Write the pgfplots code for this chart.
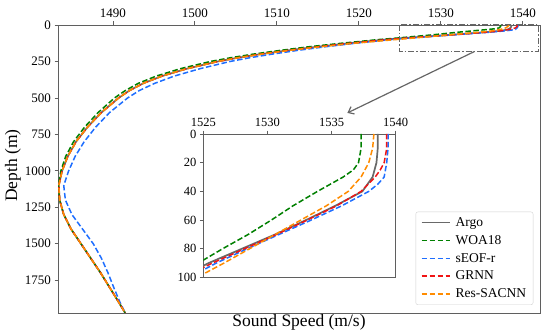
\documentclass[border=0pt]{standalone}
\usepackage{fontspec}
\setmainfont{Liberation Serif}
\usepackage{pgfplots}
\pgfplotsset{compat=1.18}
\usepackage{pgfplotstable}
\usetikzlibrary{arrows.meta}
\definecolor{cArgo}{RGB}{105,105,105}
\definecolor{cWOA}{RGB}{0,128,0}
\definecolor{cSEOF}{RGB}{30,110,255}
\definecolor{cGRNN}{RGB}{240,20,20}
\definecolor{cRES}{RGB}{255,140,0}
\definecolor{frame}{RGB}{95,95,95}

\pgfplotstableread{
d s
0 1538.6
10 1538.6
20 1538.5
30 1538.2
40 1537.4
50 1535.3
60 1533.0
70 1530.6
80 1528.0
90 1525.4
100 1523.2
125 1518.8
150 1514.8
175 1511.2
200 1508.0
225 1505.2
250 1502.8
300 1499.0
350 1496.0
400 1493.7
450 1492.0
500 1490.7
600 1488.6
700 1486.9
800 1485.5
900 1484.5
1000 1483.8
1100 1483.4
1200 1483.5
1300 1484.0
1400 1484.9
1500 1486.1
1600 1487.3
1700 1488.5
1800 1489.6
1900 1490.7
1975 1491.5
}\argo

\pgfplotstableread{
d s
0 1537.3
10 1537.3
20 1537.1
25 1536.7
30 1535.9
40 1533.9
50 1532.0
60 1530.3
70 1528.5
80 1526.5
90 1524.6
100 1522.4
125 1517.9
150 1513.8
175 1510.3
200 1507.1
225 1504.3
250 1501.9
300 1498.2
350 1495.3
400 1493.1
450 1491.5
500 1490.2
600 1488.2
700 1486.55
800 1485.2
900 1484.25
1000 1483.65
1100 1483.35
1200 1483.5
1300 1484.0
1400 1484.9
1500 1486.1
1600 1487.3
1700 1488.5
1800 1489.6
1900 1490.7
1975 1491.5
}\woa

\pgfplotstableread{
d s
0 1539.4
10 1539.4
20 1539.3
30 1539.1
35 1538.6
40 1537.9
50 1535.8
60 1533.4
70 1530.9
80 1528.4
90 1526.0
100 1523.9
125 1519.6
150 1515.8
175 1512.4
200 1509.4
225 1506.65
250 1504.3
300 1500.6
350 1497.5
400 1495.1
450 1493.2
500 1491.8
600 1489.6
700 1487.9
800 1486.5
900 1485.4
1000 1484.6
1100 1484.0
1200 1484.2
1300 1485.0
1400 1486.3
1500 1487.6
1600 1488.6
1700 1489.4
1800 1490.1
1900 1490.85
1975 1491.5
}\seof

\pgfplotstableread{
d s
0 1539.3
10 1539.3
20 1539.1
25 1538.8
30 1538.4
40 1537.3
50 1535.4
60 1533.1
70 1530.7
80 1528.2
90 1525.7
100 1523.4
125 1518.9
150 1514.9
175 1511.2
200 1508.0
225 1505.2
250 1502.8
300 1499.0
350 1496.0
400 1493.7
450 1492.0
500 1490.7
600 1488.6
700 1486.9
800 1485.5
900 1484.5
1000 1483.8
1100 1483.4
1200 1483.5
1300 1484.0
1400 1484.9
1500 1486.1
1600 1487.3
1700 1488.5
1800 1489.6
1900 1490.7
1975 1491.5
}\grnn

\pgfplotstableread{
d s
0 1538.3
10 1538.2
20 1537.9
30 1537.3
40 1536.3
50 1534.6
60 1532.6
70 1530.6
80 1528.6
90 1526.6
100 1524.5
125 1519.5
150 1515.2
175 1511.4
200 1508.1
225 1505.2
250 1502.8
300 1499.0
350 1496.0
400 1493.7
450 1492.0
500 1490.7
600 1488.6
700 1486.9
800 1485.5
900 1484.5
1000 1483.8
1100 1483.4
1200 1483.5
1300 1484.0
1400 1484.9
1500 1486.1
1600 1487.3
1700 1488.5
1800 1489.6
1900 1490.7
1975 1491.5
}\res

\pgfplotsset{
  common/.style={
    scale only axis,
    y dir=reverse,
    tick align=outside,
    major tick length=3.5pt,
    xtick pos=right, ytick pos=left,
    xticklabel pos=right,
    axis line style={frame, line width=0.8pt},
    tick style={frame, line width=0.8pt},
    /pgf/number format/assume math mode=true,
    /pgf/number format/1000 sep={},
    every axis plot/.append style={line join=round},
  },
  sargo/.style={cArgo, line width=1.7pt},
  sdash/.style={line width=1.5pt, dash pattern=on 5.5pt off 2.5pt},
}

\begin{document}
\begin{tikzpicture}[x=1pt,y=1pt]
\useasboundingbox (0,0) rectangle (550,334);
\begin{axis}[
  common,
  at={(58pt,21pt)}, anchor=south west,
  width=482pt, height=288pt,
  xmin=1483.3, xmax=1542.1, ymin=0, ymax=1975,
  xtick={1490,1500,...,1540}, ytick={0,250,...,1750},
  tick label style={font=\fontsize{13}{15}\selectfont},
  legend style={at={(0.986,0.028)}, anchor=south east,
    font=\fontsize{13.5}{16}\selectfont, draw=black!18, rounded corners=2pt,
    fill=white, row sep=3.4pt, inner xsep=5pt, inner ysep=3.5pt,
    cells={anchor=west},
    /tikz/every odd column/.style={column sep=3pt}},
  legend image code/.code={\draw[#1] (0pt,0pt) -- (28pt,0pt);},
]
\addplot[sargo] table[x=s,y=d] {\argo};
\addlegendentry{Argo}
\addplot[sdash, cWOA] table[x=s,y=d] {\woa};
\addlegendentry{WOA18}
\addplot[sdash, cSEOF] table[x=s,y=d] {\seof};
\addlegendentry{sEOF-r}
\addplot[sdash, cGRNN] table[x=s,y=d] {\grnn};
\addlegendentry{GRNN}
\addplot[sdash, cRES] table[x=s,y=d] {\res};
\addlegendentry{Res-SACNN}
\draw[black!60, line width=1pt, dash pattern=on 6pt off 2pt on 1.5pt off 2pt]
  (axis cs:1525,0) rectangle (axis cs:1541.9,180);
\draw[black!60, line width=1.2pt, -{Straight Barb[length=5pt,width=8pt]}]
  (axis cs:1534.1,182) -- (axis cs:1518.6,603);
\end{axis}

\begin{axis}[
  common,
  at={(203.3pt,56.5pt)}, anchor=south west,
  width=192.4pt, height=143.5pt,
  xmin=1525, xmax=1540, ymin=0, ymax=100,
  xtick={1525,1530,1535,1540}, ytick={0,20,...,100},
  tick label style={font=\fontsize{12.5}{15}\selectfont},
  axis background/.style={fill=white},
]
\addplot[sargo] table[x=s,y=d] {\argo};
\addplot[sdash, cWOA] table[x=s,y=d] {\woa};
\addplot[sdash, cSEOF] table[x=s,y=d] {\seof};
\addplot[sdash, cGRNN] table[x=s,y=d] {\grnn};
\addplot[sdash, cRES] table[x=s,y=d] {\res};
\end{axis}

\node[anchor=base, font=\fontsize{17.5}{20}\selectfont] at (299,7.5) {Sound Speed (m/s)};
\node[anchor=base, rotate=90, font=\fontsize{17.5}{20}\selectfont] at (17,168.5) {Depth (m)};
\end{tikzpicture}
\end{document}
